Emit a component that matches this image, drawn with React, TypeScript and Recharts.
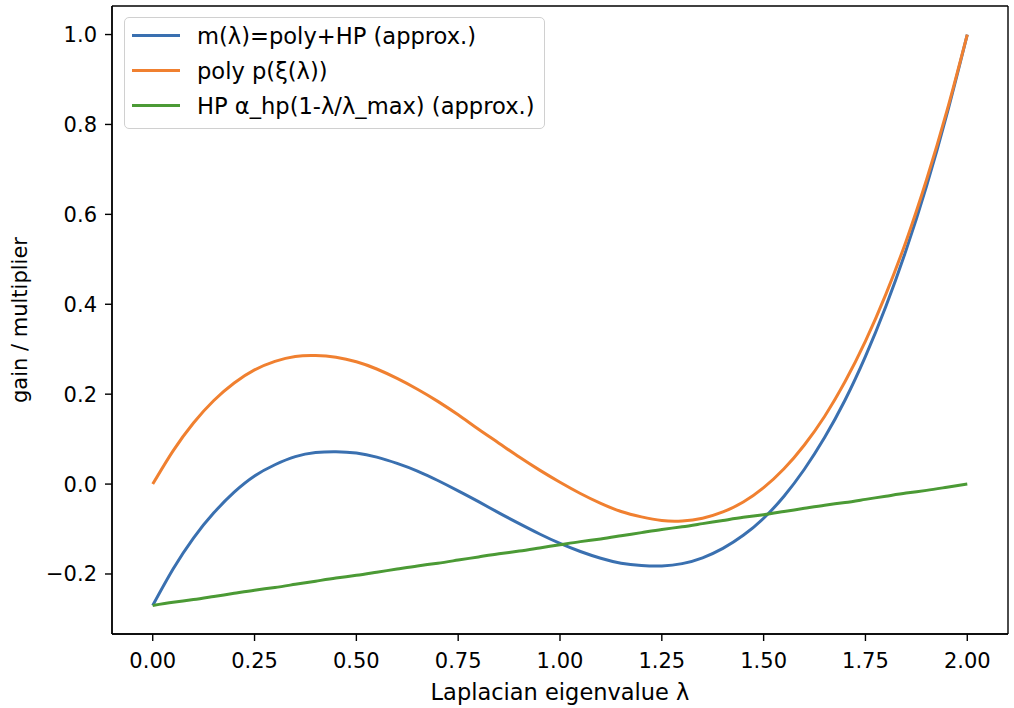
import { LineChart, Line, XAxis, YAxis, Legend, CartesianGrid } from 'recharts'

// eigenvalue grid (x)
const lambdas = [
  0.0, 0.05, 0.1, 0.15, 0.2, 0.25, 0.3, 0.35, 0.4, 0.45, 0.5, 0.55, 0.6, 0.65, 0.7, 0.75, 0.8, 0.85,
  0.9, 0.95, 1.0, 1.05, 1.1, 1.15, 1.2, 1.25, 1.3, 1.35, 1.4, 1.45, 1.5, 1.55, 1.6, 1.65, 1.7, 1.75,
  1.8, 1.85, 1.9, 1.95, 2.0,
]

// m(λ) = poly + HP
const mValues = [
  -0.27, -0.189, -0.12, -0.064, -0.018, 0.018, 0.043, 0.061, 0.07, 0.072, 0.069, 0.06, 0.046, 0.029,
  0.008, -0.015, -0.039, -0.064, -0.088, -0.111, -0.132, -0.15, -0.165, -0.176, -0.181, -0.182, -0.177,
  -0.164, -0.143, -0.114, -0.076, -0.027, 0.033, 0.104, 0.187, 0.284, 0.395, 0.521, 0.663, 0.823, 1.0,
]

// poly p(ξ(λ))
const polyValues = [
  0.0, 0.074, 0.136, 0.186, 0.225, 0.254, 0.273, 0.284, 0.286, 0.282, 0.272, 0.256, 0.235, 0.211, 0.184,
  0.154, 0.122, 0.091, 0.06, 0.031, 0.004, -0.021, -0.043, -0.061, -0.073, -0.081, -0.082, -0.076,
  -0.062, -0.04, -0.008, 0.034, 0.087, 0.151, 0.228, 0.318, 0.422, 0.541, 0.677, 0.83, 1.0,
]

// HP term
const hpValues = [
  -0.27, -0.263, -0.257, -0.25, -0.243, -0.236, -0.23, -0.223, -0.216, -0.209, -0.203, -0.196, -0.189,
  -0.182, -0.176, -0.169, -0.162, -0.155, -0.149, -0.142, -0.135, -0.128, -0.122, -0.115, -0.108, -0.101,
  -0.095, -0.088, -0.081, -0.074, -0.068, -0.061, -0.054, -0.047, -0.041, -0.034, -0.027, -0.02, -0.014,
  -0.007, 0.0,
]

const xTicks = [0, 0.25, 0.5, 0.75, 1.0, 1.25, 1.5, 1.75, 2.0]
const yTicks = [-0.2, 0, 0.2, 0.4, 0.6, 0.8, 1.0]

const series = [
  { key: 'm', name: 'm(λ)=poly+HP (approx.)', color: '#3a70b0' },
  { key: 'poly', name: 'poly p(ξ(λ))', color: '#f08030' },
  { key: 'hp', name: 'HP α_hp(1-λ/λ_max) (approx.)', color: '#4b9a35' },
]

const data = lambdas.map((lam, i) => ({
  lam,
  m: mValues[i],
  poly: polyValues[i],
  hp: hpValues[i],
}))

const FONT = '"DejaVu Sans", sans-serif'
const tickStyle = { fill: '#000', fontSize: 21, fontFamily: FONT }
const axisLine = { stroke: '#000', strokeWidth: 1.4 }

const fmtY = (v: number) => (v < 0 ? '\u2212' + Math.abs(v).toFixed(1) : v.toFixed(1))

const LegendBox = () => (
  <div
    style={{
      display: 'inline-block',
      background: 'rgba(255,255,255,0.8)',
      border: '1px solid #d0d0d0',
      borderRadius: 5,
      padding: '0px 9px 5px 7px',
      fontFamily: FONT,
      fontSize: 22.6,
      color: '#000',
      whiteSpace: 'nowrap',
    }}
  >
    {series.map(s => (
      <div key={s.key} style={{ display: 'flex', alignItems: 'center', height: 35 }}>
        <div style={{ width: 48, height: 3, background: s.color, marginRight: 17 }} />
        <span>{s.name}</span>
      </div>
    ))}
  </div>
)

export default function App() {
  return (
    <div style={{ position: 'absolute', left: 0, top: 0, width: 1014, height: 708, background: '#fff' }}>
      <LineChart width={1014} height={708} data={data} margin={{ top: 6, right: 6, left: 0, bottom: 0 }}>
        {/* plot frame */}
        <CartesianGrid
          stroke="#000"
          strokeWidth={1.4}
          horizontalCoordinatesGenerator={({ offset }: any) => [offset.top, offset.top + offset.height]}
          verticalCoordinatesGenerator={({ offset }: any) => [offset.left, offset.left + offset.width]}
        />
        <XAxis
          dataKey="lam"
          type="number"
          domain={[-0.1, 2.1]}
          ticks={xTicks}
          tickFormatter={(v: number) => v.toFixed(2)}
          tick={tickStyle}
          axisLine={axisLine}
          tickLine={axisLine}
          tickSize={7}
          tickMargin={12}
          height={74}
          label={{
            value: 'Laplacian eigenvalue λ',
            position: 'insideBottom',
            offset: 8,
            style: { fill: '#000', fontSize: 22.5, fontFamily: FONT },
          }}
        />
        <YAxis
          type="number"
          domain={[-0.3335, 1.0635]}
          ticks={yTicks}
          tickFormatter={fmtY}
          tick={tickStyle}
          axisLine={axisLine}
          tickLine={axisLine}
          tickSize={7}
          tickMargin={8}
          width={112}
          label={{
            value: 'gain / multiplier',
            angle: -90,
            position: 'center',
            dx: -36,
            style: { fill: '#000', fontSize: 21, fontFamily: FONT },
          }}
        />
        <Legend
          content={<LegendBox />}
          layout="horizontal"
          verticalAlign="middle"
          align="center"
          wrapperStyle={{ top: 17, left: 124, width: 'auto', height: 'auto' }}
        />
        {series.map(s => (
          <Line
            key={s.key}
            type="natural"
            dataKey={s.key}
            name={s.name}
            stroke={s.color}
            strokeWidth={3}
            dot={false}
            activeDot={false}
            isAnimationActive={false}
          />
        ))}
      </LineChart>
    </div>
  )
}
